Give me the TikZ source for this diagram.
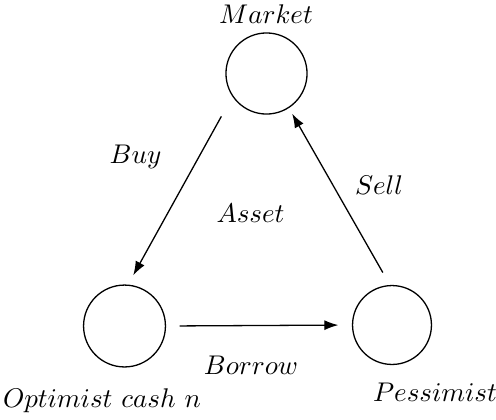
\documentclass[tikz,border=0pt]{standalone}
\usetikzlibrary{arrows.meta}
\begin{document}
\begin{tikzpicture}[x=0.37pt,y=-0.37pt,
  agent/.style={circle,draw,line width=0.48pt,inner sep=0pt,minimum size=30pt},
  lbl/.style={inner sep=0pt,anchor=center},
  flow/.style={line width=0.48pt,-{Latex[length=5.2pt,width=3.7pt]}}]
\useasboundingbox (0,0) rectangle (496,419);
\node[agent,minimum size=30pt] (market) at (266.5,73.5) {};
\node[agent,minimum size=30.3pt] (opt) at (124.5,326) {};
\node[agent,minimum size=29.2pt] (pess) at (392,325) {};
\node[lbl] (lmarket) at (266,14) {$Market$};
\node[lbl] (lopt) at (102,401) {$Optimist$ $cash$ $n$};
\node[lbl] (lpess) at (435,392) {$Pessimist$};
\node[lbl] (lbuy) at (135.5,157) {$Buy$};
\node[lbl] (lsell) at (379,185) {$Sell$};
\node[lbl] (lasset) at (250.5,213) {$Asset$};
\node[lbl] (lborrow) at (251,365) {$Borrow$};
\draw[flow,shorten <=8.4pt,shorten >=3.9pt] (market.214) -- (opt.85);
\draw[flow,shorten <=5.3pt,shorten >=2.4pt] (pess.93) -- (market.303);
\draw[flow,shorten <=5pt,shorten >=5pt] (opt.east) -- (pess.west);
\end{tikzpicture}
\end{document}
